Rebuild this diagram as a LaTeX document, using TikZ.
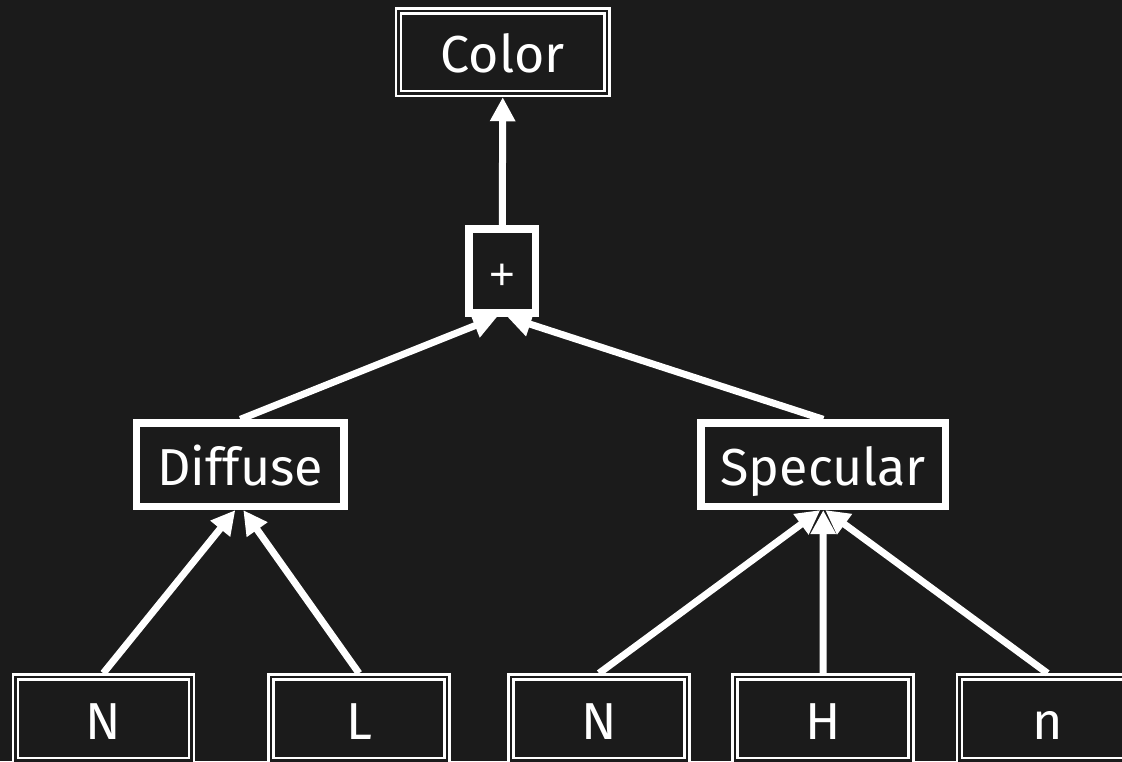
\documentclass[tikz,border=0pt]{standalone}
\usepackage{fontspec}
\setmainfont{Fira Sans}
\newfontfamily\plusfont{Liberation Sans}
\usetikzlibrary{arrows.meta,calc}
\definecolor{bg}{HTML}{1B1B1B}
\tikzset{
  txt/.style={text=white, font=\fontsize{52}{60}\selectfont, inner sep=0pt,
    text height=40.6pt, text depth=0pt},
  thickbox/.style={txt, draw=white, fill=bg, line width=7.5pt, outer sep=3.75pt},
  dblbox/.style={txt, draw=white, fill=bg, line width=2.4pt, double=bg,
    double distance=2.7pt, outer sep=3.75pt},
  arr/.style={draw=white, line width=7pt,
    -{Triangle[length=24pt,width=24pt]}},
}
\begin{document}
\begin{tikzpicture}[x=1pt,y=-1pt]
  \fill[bg] (0,0) rectangle (1122,761);
  \useasboundingbox (0,0) rectangle (1122,761);

  % top-level output
  \node[dblbox, minimum width=208.5pt, minimum height=82.5pt] (color) at (502.75,52.25) {Color};
  % sum of the two terms
  \node[thickbox, minimum width=66.5pt, minimum height=84pt,
        font=\plusfont\fontsize{44}{50}\selectfont, text height=36.8pt] (plus) at (502.25,271) {+};
  % lighting terms
  \node[thickbox, minimum width=207.3pt, minimum height=83.3pt] (diffuse) at (240.3,464.7) {Diffuse};
  \node[thickbox, minimum width=244.5pt, minimum height=83.3pt] (specular) at (823.25,464.7) {Specular};
  % inputs
  \foreach \nm/\xx/\lbl in {nA/103.25/N, lA/359/L, nB/599/N, hA/823/H, sA/1047.5/n}
    \node[dblbox, minimum width=176pt, minimum height=83.5pt] (\nm) at (\xx,718.75) {\lbl};

  % connectors
  \draw[arr] (plus.north) -- (color.south);
  \draw[arr] (diffuse.north) -- ($(plus.south)+(-5,0)$);
  \draw[arr] (specular.north) -- ($(plus.south)+(5,0)$);
  \draw[arr] (nA.north) -- ($(diffuse.south)+(-5,0)$);
  \draw[arr] (lA.north) -- ($(diffuse.south)+(3,0)$);
  \draw[arr] (hA.north) -- (specular.south);
  \draw[arr] (nB.north) -- ($(specular.south)+(-3,0)$);
  \draw[arr] (sA.north) -- ($(specular.south)+(2,0)$);
\end{tikzpicture}
\end{document}
